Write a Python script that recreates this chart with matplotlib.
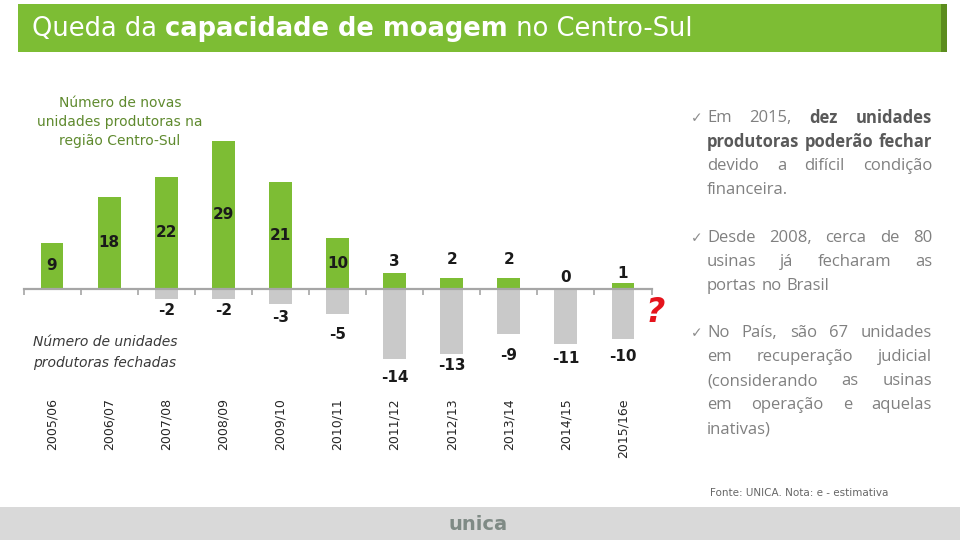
import matplotlib
matplotlib.use("Agg")
import matplotlib.pyplot as plt
from matplotlib.transforms import blended_transform_factory
from matplotlib.patches import Rectangle
import numpy as np

plt.rcParams['font.family'] = ['DejaVu Sans']

# ---------------- data ----------------
seasons = ["2005/06", "2006/07", "2007/08", "2008/09", "2009/10", "2010/11",
           "2011/12", "2012/13", "2013/14", "2014/15", "2015/16e"]
new_units = [9, 18, 22, 29, 21, 10, 3, 2, 2, 0, 1]
closed_units = [None, None, -2, -2, -3, -5, -14, -13, -9, -11, -10]

title_runs = [("Queda da ", "normal"), ("capacidade de moagem", "bold"), (" no Centro-Sul", "normal")]
green_note = ["Número de novas", "unidades produtoras na", "região Centro-Sul"]
gray_note = ["Número de unidades", "produtoras fechadas"]
paragraphs = [
    [[("Em", 0), ("2015,", 0), ("dez", 1), ("unidades", 1)],
     [("produtoras", 1), ("poderão", 1), ("fechar", 1)],
     [("devido", 0), ("a", 0), ("difícil", 0), ("condição", 0)],
     [("financeira.", 0)]],
    [[("Desde", 0), ("2008,", 0), ("cerca", 0), ("de", 0), ("80", 0)],
     [("usinas", 0), ("já", 0), ("fecharam", 0), ("as", 0)],
     [("portas", 0), ("no", 0), ("Brasil", 0)]],
    [[("No", 0), ("País,", 0), ("são", 0), ("67", 0), ("unidades", 0)],
     [("em", 0), ("recuperação", 0), ("judicial", 0)],
     [("(considerando", 0), ("as", 0), ("usinas", 0)],
     [("em", 0), ("operação", 0), ("e", 0), ("aquelas", 0)],
     [("inativas)", 0)]],
]
source_note = "Fonte: UNICA. Nota: e - estimativa"

# ---------------- layout / style ----------------
W, H = 960, 544
GREEN = "#7dbd34"
DARKGREEN = "#5c8c1e"
GRAY_BAR = "#c9c9c9"
pos_off = [None, None, None, None, None, None, 12, 19, 19, 11, 10]   # px above bar top
neg_off = [None, None, 12, 12, 14, 21, 18, 11, 21, 14, 17]           # px below bar bottom

fig = plt.figure(figsize=(W / 100, H / 100), dpi=100)
fig.patch.set_facecolor("white")
ov = fig.add_axes([0, 0, 1, 1], zorder=0)
ov.set_xlim(0, W)
ov.set_ylim(H, 0)
ov.axis("off")
ov.patch.set_alpha(0)

# main chart axes (pixel geometry)
x_left_px, x_right_px = 23.5, 651.5
zero_px, px_per_unit = 288.5, 5.07
top_px, bot_px = 120, 395
ax = fig.add_axes([x_left_px / W, 1 - bot_px / H, (x_right_px - x_left_px) / W, (bot_px - top_px) / H], zorder=2)
ax.patch.set_alpha(0)
n = len(seasons)
ax.set_xlim(-0.5, n - 0.5)
ax.set_ylim(-(bot_px - zero_px) / px_per_unit, (zero_px - top_px) / px_per_unit)

x = np.arange(n)
ax.bar(x, new_units, width=0.4, color=GREEN, zorder=2)
closed_vals = [0 if c is None else c for c in closed_units]
ax.bar(x, closed_vals, width=0.4, color=GRAY_BAR, zorder=2)

for s in ["top", "right", "left"]:
    ax.spines[s].set_visible(False)
ax.spines["bottom"].set_position(("data", 0))
ax.spines["bottom"].set_color("#a6a6a6")
ax.spines["bottom"].set_linewidth(1.6)
ax.spines["bottom"].set_zorder(3)
ax.set_yticks([])
ax.set_xticks([])
ax.set_xticks(np.arange(-0.5, n, 1.0), minor=True)
ax.tick_params(axis="x", which="minor", length=4, width=1.2, color="#a6a6a6", direction="out")
ax.tick_params(axis="x", which="major", length=0, labelbottom=False)

# value labels
for i, v in enumerate(new_units):
    if pos_off[i] is None:
        ax.annotate(str(v), xy=(i, v / 2), ha="center", va="center",
                    fontsize=11, fontweight="bold", color="#1a1a1a", zorder=4)
    else:
        ax.annotate(str(v), xy=(i, v), xytext=(0, pos_off[i] * 0.72), textcoords="offset points",
                    ha="center", va="center", fontsize=11, fontweight="bold", color="#1a1a1a", zorder=4)
for i, v in enumerate(closed_units):
    if v is None:
        continue
    ax.annotate(str(v), xy=(i, v), xytext=(0, -neg_off[i] * 0.72), textcoords="offset points",
                ha="center", va="center", fontsize=11, fontweight="bold", color="#1a1a1a", zorder=4)

# category labels
tr = blended_transform_factory(ax.transData, ov.transData)
for i, s in enumerate(seasons):
    ax.text(i, 398, s, transform=tr, rotation=90, ha="center", va="top",
            fontsize=9, color="#262626")

# red question mark
ov.text(655, 313, "?", fontsize=24, fontweight="bold", fontstyle="italic",
        color="#e5141c", ha="center", va="center")

# notes on chart
for k, line in enumerate(green_note):
    ov.text(120, 103 + k * 19, line, ha="center", va="center", fontsize=10, color="#5f8a2e")
for k, line in enumerate(gray_note):
    ov.text(105, 342 + k * 21, line, ha="center", va="center", fontsize=10,
            fontstyle="italic", color="#3a3a3a")

# title banner
ov.add_patch(Rectangle((18, 4), 924, 48, facecolor=GREEN, edgecolor="none", zorder=1))
ov.add_patch(Rectangle((941, 4), 6, 48, facecolor=DARKGREEN, edgecolor="none", zorder=1))

fig.canvas.draw()
renderer = fig.canvas.get_renderer()

def text_width(t):
    return t.get_window_extent(renderer).width

xc = 32
for txt, wt in title_runs:
    t = ov.text(xc, 29, txt, ha="left", va="center", fontsize=18.5, fontweight=wt,
                color="white", zorder=2)
    xc += text_width(t)

# right paragraphs, justified
x0, x1 = 707, 932
para_y = [118, 238, 333]
line_h = 24
PFONT = ["Open Sans", "DejaVu Sans"]
for p, lines in enumerate(paragraphs):
    ov.text(697, para_y[p], "✓", ha="center", va="center", fontsize=10, color="#8c8c8c")
    for li, words in enumerate(lines):
        y = para_y[p] + li * line_h
        objs = []
        for w, b in words:
            t = ov.text(0, y, w, ha="left", va="center", fontsize=12, family=PFONT,
                        fontweight="bold" if b else "normal",
                        color="#595959" if b else "#808080")
            objs.append(t)
        widths = [text_width(t) for t in objs]
        last = (li == len(lines) - 1)
        if last or len(objs) == 1:
            gap = 5.0
        else:
            gap = (x1 - x0 - sum(widths)) / (len(objs) - 1)
        xc = x0
        for t, wd in zip(objs, widths):
            t.set_x(xc)
            xc += wd + gap

ov.text(710, 493, source_note, ha="left", va="center", fontsize=7.5, color="#666666")

# footer band with logo
ov.add_patch(Rectangle((0, 507), W, 33, facecolor="#d9d9d9", edgecolor="none", zorder=1))
ov.text(478, 524, "unica", ha="center", va="center", fontsize=14, fontweight="bold",
        color="#7f8a85", zorder=2)

fig.savefig("out.png", dpi=100, facecolor="white")
